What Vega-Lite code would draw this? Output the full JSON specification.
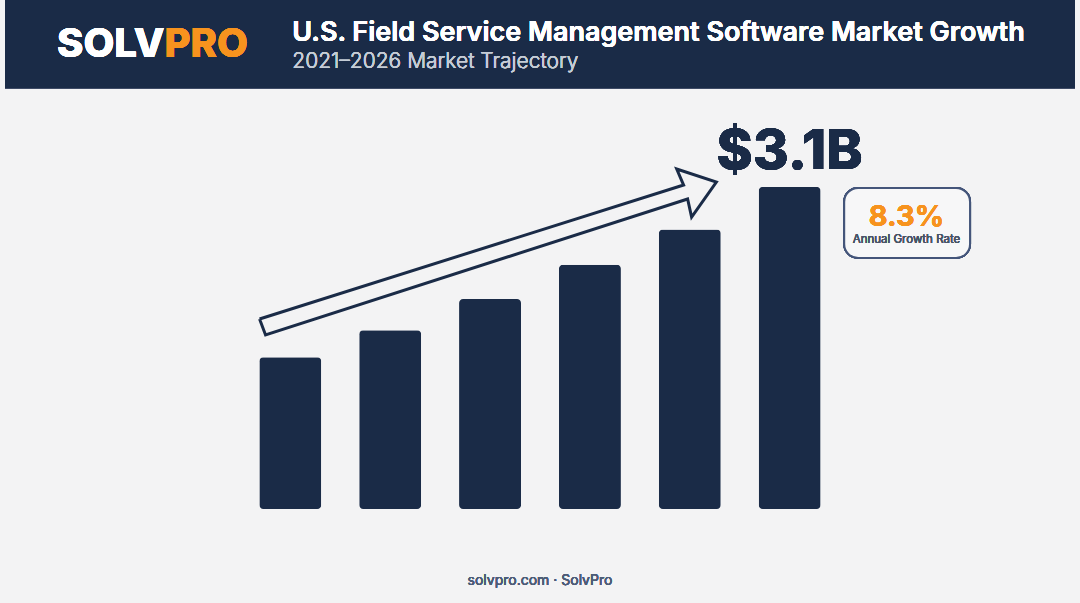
{
  "$schema": "https://vega.github.io/schema/vega-lite/v6.json",
  "autosize": {"type": "fit", "contains": "padding"},
  "width": 1080,
  "height": 603,
  "padding": 0,
  "background": "#f3f3f4",
  "config": {"view": {"stroke": null}, "text": {"font": "Inter"}},
  "datasets": {
    "market": [
      {"year": 2021, "value": 1.46},
      {"year": 2022, "value": 1.72},
      {"year": 2023, "value": 2.02},
      {"year": 2024, "value": 2.35},
      {"year": 2025, "value": 2.69},
      {"year": 2026, "value": 3.1}
    ],
    "arrow": [
      {"step": 1, "year": 2020.692, "value": 1.829},
      {"step": 2, "year": 2024.938, "value": 3.118},
      {"step": 3, "year": 2024.869, "value": 3.272},
      {"step": 4, "year": 2025.266, "value": 3.147},
      {"step": 5, "year": 2025.018, "value": 2.81},
      {"step": 6, "year": 2024.978, "value": 2.984},
      {"step": 7, "year": 2020.752, "value": 1.675},
      {"step": 8, "year": 2020.692, "value": 1.829}
    ]
  },
  "data": {"name": "market"},
  "layer": [
    {
      "mark": {"type": "rect", "color": "#1a2b47"},
      "encoding": {
        "x": {"datum": 2018.143, "type": "quantitative", "axis": null, "scale": {"domain": [2018.143, 2028.857]}},
        "x2": {"datum": 2028.857},
        "y": {"datum": 4.05, "type": "quantitative", "axis": null, "scale": {"domain": [-0.905, 4.899]}},
        "y2": {"datum": 4.899}
      }
    },
    {
      "mark": {"type": "bar", "orient": "vertical", "width": 62, "color": "#1a2b47", "cornerRadius": 4},
      "encoding": {
        "x": {
          "field": "year",
          "type": "quantitative",
          "scale": {"domain": [2018.143, 2028.857], "nice": false, "zero": false},
          "axis": {
            "values": [2021, 2022, 2023, 2024, 2025, 2026],
            "format": "d",
            "title": null,
            "grid": false,
            "domain": false,
            "ticks": false,
            "offset": -94,
            "labelPadding": 9,
            "labelFont": "Inter",
            "labelFontSize": 20,
            "labelColor": "#4d5c78"
          }
        },
        "y": {"field": "value", "type": "quantitative", "axis": null, "scale": {"domain": [-0.905, 4.899], "nice": false, "zero": false}}
      }
    },
    {
      "data": {"name": "arrow"},
      "mark": {"type": "line", "color": "#1a2b47", "strokeWidth": 3, "strokeJoin": "miter"},
      "encoding": {
        "x": {"field": "year", "type": "quantitative", "axis": null},
        "y": {"field": "value", "type": "quantitative", "axis": null},
        "order": {"field": "step"}
      }
    },
    {
      "mark": {"type": "rect", "fill": "#f7f7f8", "stroke": "#44557a", "strokeWidth": 2, "cornerRadius": 14},
      "encoding": {
        "x": {"datum": 2026.546, "type": "quantitative", "axis": null},
        "x2": {"datum": 2027.806},
        "y": {"datum": 3.09, "type": "quantitative", "axis": null},
        "y2": {"datum": 2.416}
      }
    },
    {
      "mark": {"type": "text", "align": "right", "baseline": "alphabetic", "fontSize": 40, "fontWeight": 800, "color": "#ffffff", "font": "Inter"},
      "encoding": {
        "x": {"datum": 2019.74, "type": "quantitative", "axis": null},
        "y": {"datum": 4.35, "type": "quantitative", "axis": null},
        "text": {"value": "SOLV"}
      }
    },
    {
      "mark": {"type": "text", "align": "left", "baseline": "alphabetic", "fontSize": 40, "fontWeight": 800, "color": "#f7931e", "font": "Inter"},
      "encoding": {
        "x": {"datum": 2019.74, "type": "quantitative", "axis": null},
        "y": {"datum": 4.35, "type": "quantitative", "axis": null},
        "text": {"value": "PRO"}
      }
    },
    {
      "mark": {"type": "text", "align": "left", "baseline": "alphabetic", "fontSize": 27, "fontWeight": 600, "color": "#ffffff", "font": "Inter"},
      "encoding": {
        "x": {"datum": 2021.02, "type": "quantitative", "axis": null},
        "y": {"datum": 4.504, "type": "quantitative", "axis": null},
        "text": {"value": "U.S. Field Service Management Software Market Growth"}
      }
    },
    {
      "mark": {"type": "text", "align": "left", "baseline": "alphabetic", "fontSize": 21, "fontWeight": 300, "color": "#c5ccd6", "font": "Inter"},
      "encoding": {
        "x": {"datum": 2021.02, "type": "quantitative", "axis": null},
        "y": {"datum": 4.244, "type": "quantitative", "axis": null},
        "text": {"value": "2021–2026 Market Trajectory"}
      }
    },
    {
      "mark": {"type": "text", "align": "center", "baseline": "alphabetic", "fontSize": 55, "fontWeight": 800, "color": "#1a2b47", "font": "Inter"},
      "encoding": {
        "x": {"datum": 2026, "type": "quantitative", "axis": null},
        "y": {"datum": 3.272, "type": "quantitative", "axis": null},
        "text": {"value": "$3.1B"}
      }
    },
    {
      "mark": {"type": "text", "align": "center", "baseline": "alphabetic", "fontSize": 29, "fontWeight": 700, "color": "#f7931e", "font": "Inter"},
      "encoding": {
        "x": {"datum": 2027.17, "type": "quantitative", "axis": null},
        "y": {"datum": 2.724, "type": "quantitative", "axis": null},
        "text": {"value": "8.3%"}
      }
    },
    {
      "mark": {"type": "text", "align": "center", "baseline": "alphabetic", "fontSize": 11.5, "color": "#4a5568", "font": "Inter"},
      "encoding": {
        "x": {"datum": 2027.17, "type": "quantitative", "axis": null},
        "y": {"datum": 2.56, "type": "quantitative", "axis": null},
        "text": {"value": "Annual Growth Rate"}
      }
    },
    {
      "mark": {"type": "text", "align": "center", "baseline": "alphabetic", "fontSize": 14, "color": "#4d5c78", "font": "Inter"},
      "encoding": {
        "x": {"datum": 2023.5, "type": "quantitative", "axis": null},
        "y": {"datum": -0.731, "type": "quantitative", "axis": null},
        "text": {"value": "solvpro.com · SolvPro"}
      }
    }
  ]
}
